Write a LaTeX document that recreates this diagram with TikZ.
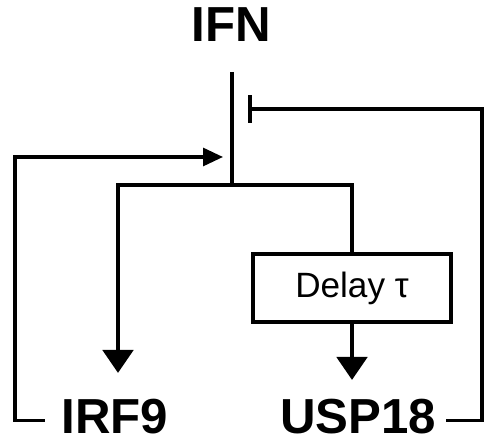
\documentclass[tikz,border=0pt]{standalone}
\usepackage{fontspec}
\setmainfont{Liberation Sans}
\usetikzlibrary{arrows.meta}

\begin{document}
\begin{tikzpicture}[x=1cm, y=1cm, every node/.style={font=\fontsize{42}{42}\selectfont\bfseries, inner sep=0pt}]
\useasboundingbox (0,0) rectangle (14.55,13.29);
\node (IFN) at (6.93,12.54) {IFN};
\node[inner xsep=0.5cm] (IRF) at (3.45,0.8) {IRF9};
\node[inner xsep=0.3cm] (USP) at (10.74,0.8) {USP18};
\node[draw, line width=3pt, minimum width=5.94cm, minimum height=2.04cm, font=\fontsize{30}{30}\selectfont] (D) at (10.56,4.65) {Delay τ};
\coordinate (top) at (6.96,11.13);
\coordinate (J) at (6.96,7.74);
\coordinate (irfTip) at (3.54,2.10);
\coordinate (uspTip) at (10.56,1.89);
\coordinate (inh) at (7.44,10.02);
\coordinate (R) at (14.46,10.02);
\coordinate (L) at (0.45,8.58);
\coordinate (fbTip) at (6.69,8.58);
\draw[line width=4.2pt] (top) -- (J);
\draw[line width=4.2pt, -{Triangle[length=0.69cm,width=0.9cm]}] (J) -| (irfTip);
\draw[line width=4.2pt] (J) -| (D.north);
\draw[line width=4.2pt, -{Triangle[length=0.69cm,width=0.9cm]}] (D.south) -- (uspTip);
\draw[line width=2.6pt, -{Bar[width=0.84cm, line width'=3.8pt]}] ([yshift=-0.12cm]USP.east) -| (R) -- (inh);
\draw[line width=2.6pt, -{Triangle[length=0.6cm,width=0.54cm]}] ([yshift=-0.12cm]IRF.west) -| (L) -- (fbTip);
\end{tikzpicture}
\end{document}
